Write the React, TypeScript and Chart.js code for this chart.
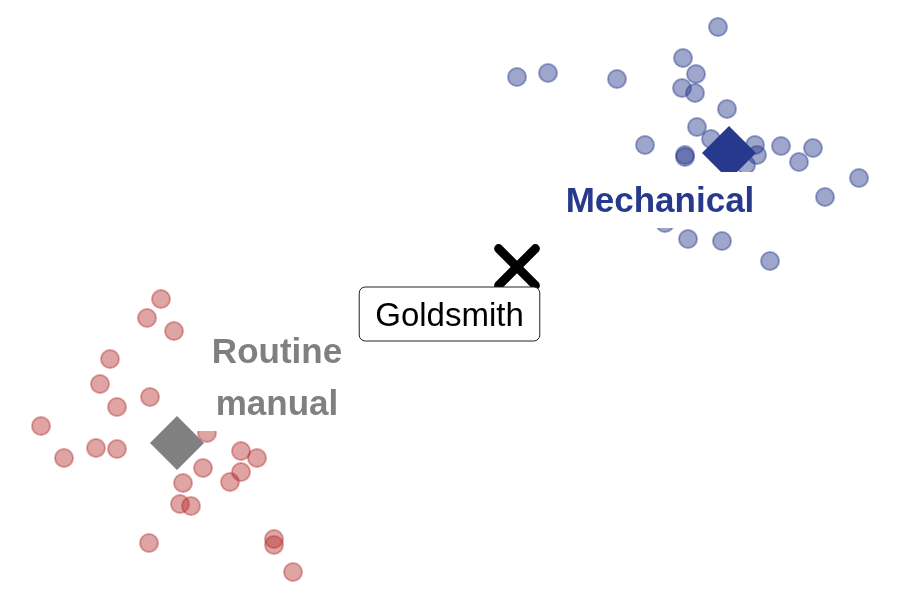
import { useEffect, useRef } from 'react';
import { Chart, ChartConfiguration, Plugin, registerables } from 'chart.js';

Chart.register(...registerables);

// Coordinates on the two map dimensions
const routineX = [-2.89, -3.03, -2.76, -3.4, -3.5, -3.0, -3.33, -4.09, -3.86, -3.54, -3.33, -2.43,
  -2.09, -1.93, -2.09, -2.47, -2.2, -2.67, -2.7, -2.59, -3.01, -1.76, -1.76, -1.57];
const routineY = [0.01, -0.18, -0.31, -0.59, -0.84, -0.97, -1.07, -1.26, -1.58, -1.48, -1.49, -1.33,
  -1.51, -1.58, -1.72, -1.68, -1.82, -1.83, -2.04, -2.06, -2.43, -2.39, -2.45, -2.72];

const mechanicalX = [2.68, 2.33, 2.46, 2.32, 2.45, 0.67, 0.98, 1.67, 2.77, 2.47, 2.61, 1.95, 2.35,
  2.35, 3.05, 3.07, 3.31, 3.49, 3.63, 4.09, 3.75, 2.96, 2.15, 2.38, 2.72, 3.2];
const mechanicalY = [2.73, 2.42, 2.26, 2.12, 2.07, 2.23, 2.27, 2.21, 1.91, 1.73, 1.61, 1.55, 1.45,
  1.43, 1.55, 1.45, 1.54, 1.38, 1.52, 1.22, 1.03, 1.35, 0.77, 0.61, 0.59, 0.39];

const centroidX = [-2.73, 2.79];
const centroidY = [-1.43, 1.47];

const occupation = 'Goldsmith';
const occupationX = [0.67];
const occupationY = [0.33];

const BLUE = '#27398c';
const GRAY = '#808080';
const FONT = '"Liberation Sans", Arial, Helvetica, sans-serif';

// Label anchors (text centre) in data units
const groupLabels = [
  { lines: ['Routine', 'manual'], x: -1.73, y: -0.77, color: GRAY },
  { lines: ['Mechanical'], x: 2.1, y: 1.0, color: BLUE },
];
const occupationLabel = { text: occupation, x: -0.005, y: -0.14 };

const toPoints = (xs: number[], ys: number[]) => xs.map((x, i) => ({ x, y: ys[i] }));

// round line ends for the X marker
const roundCapPlugin: Plugin = {
  id: 'roundCap',
  beforeDatasetDraw(chart, args) {
    if (chart.data.datasets[args.index].label === occupation) {
      chart.ctx.save();
      chart.ctx.lineCap = 'round';
    }
  },
  afterDatasetDraw(chart, args) {
    if (chart.data.datasets[args.index].label === occupation) {
      chart.ctx.restore();
    }
  },
};

const labelPlugin: Plugin = {
  id: 'labels',
  afterDatasetsDraw(chart) {
    const { ctx, scales } = chart;
    const xs = scales.x;
    const ys = scales.y;

    // group labels: bold text on a white box
    const size = 35;
    const lineH = 52;
    ctx.save();
    ctx.font = `bold ${size}px ${FONT}`;
    ctx.textAlign = 'center';
    ctx.textBaseline = 'alphabetic';
    groupLabels.forEach(lbl => {
      const cx = xs.getPixelForValue(lbl.x);
      const cy = ys.getPixelForValue(lbl.y);
      const w = Math.max(...lbl.lines.map(l => ctx.measureText(l).width)) + 36;
      const h = lbl.lines.length * lineH + 4;
      ctx.fillStyle = '#ffffff';
      ctx.fillRect(cx - w / 2, cy - h / 2, w, h);
      ctx.fillStyle = lbl.color;
      lbl.lines.forEach((line, i) => {
        const lineCentre = cy + (i - (lbl.lines.length - 1) / 2) * lineH;
        ctx.fillText(line, cx, lineCentre + size * 0.35);
      });
    });
    ctx.restore();

    // occupation label: rounded box with a thin border
    ctx.save();
    const oSize = 33;
    ctx.font = `${oSize}px ${FONT}`;
    ctx.textAlign = 'center';
    ctx.textBaseline = 'alphabetic';
    const ox = xs.getPixelForValue(occupationLabel.x);
    const oy = ys.getPixelForValue(occupationLabel.y);
    const ow = ctx.measureText(occupationLabel.text).width + 32;
    const oh = 54;
    ctx.beginPath();
    ctx.roundRect(ox - ow / 2, oy - oh / 2, ow, oh, 6);
    ctx.fillStyle = '#ffffff';
    ctx.fill();
    ctx.lineWidth = 1;
    ctx.strokeStyle = '#222222';
    ctx.stroke();
    ctx.fillStyle = '#000000';
    ctx.fillText(occupationLabel.text, ox, oy + oSize * 0.35);
    ctx.restore();
  },
};

function MapChart() {
  const canvasRef = useRef<HTMLCanvasElement>(null);
  const chartRef = useRef<Chart | null>(null);

  useEffect(() => {
    if (!canvasRef.current) return;
    if (chartRef.current) chartRef.current.destroy();
    const ctx = canvasRef.current.getContext('2d');
    if (!ctx) return;

    const config: ChartConfiguration<'scatter'> = {
      type: 'scatter',
      data: {
        datasets: [
          {
            label: 'Routine manual jobs',
            data: toPoints(routineX, routineY),
            backgroundColor: 'rgba(178, 40, 40, 0.42)',
            borderColor: 'rgba(178, 40, 40, 0.42)',
            borderWidth: 2,
            pointRadius: 9,
            clip: false,
            order: 4,
          },
          {
            label: 'Mechanical jobs',
            data: toPoints(mechanicalX, mechanicalY),
            backgroundColor: 'rgba(39, 57, 140, 0.45)',
            borderColor: 'rgba(39, 57, 140, 0.45)',
            borderWidth: 2,
            pointRadius: 9,
            clip: false,
            order: 3,
          },
          {
            label: 'Centroids',
            data: toPoints(centroidX, centroidY),
            backgroundColor: [GRAY, BLUE],
            borderColor: [GRAY, BLUE],
            borderWidth: 0,
            pointStyle: 'rectRot',
            pointRadius: 27,
            clip: false,
            order: 2,
          },
          {
            label: occupation,
            data: toPoints(occupationX, occupationY),
            backgroundColor: '#000000',
            borderColor: '#000000',
            borderWidth: 9,
            pointStyle: 'crossRot',
            pointRadius: 26,
            clip: false,
            order: 1,
          },
        ],
      },
      options: {
        responsive: true,
        maintainAspectRatio: false,
        animation: false,
        layout: { padding: 0, autoPadding: false },
        plugins: {
          legend: { display: false },
          tooltip: { enabled: false },
        },
        scales: {
          x: { type: 'linear', min: -4.5, max: 4.5, display: false },
          y: { type: 'linear', min: -3, max: 3, display: false },
        },
      },
      plugins: [roundCapPlugin, labelPlugin],
    };

    chartRef.current = new Chart(ctx, config);

    return () => {
      if (chartRef.current) {
        chartRef.current.destroy();
        chartRef.current = null;
      }
    };
  }, []);

  return (
    <div style={{ position: 'fixed', left: 0, top: 0, width: 900, height: 600, background: '#fff' }}>
      <canvas ref={canvasRef}></canvas>
    </div>
  );
}

export default function App() {
  return <MapChart />;
}
